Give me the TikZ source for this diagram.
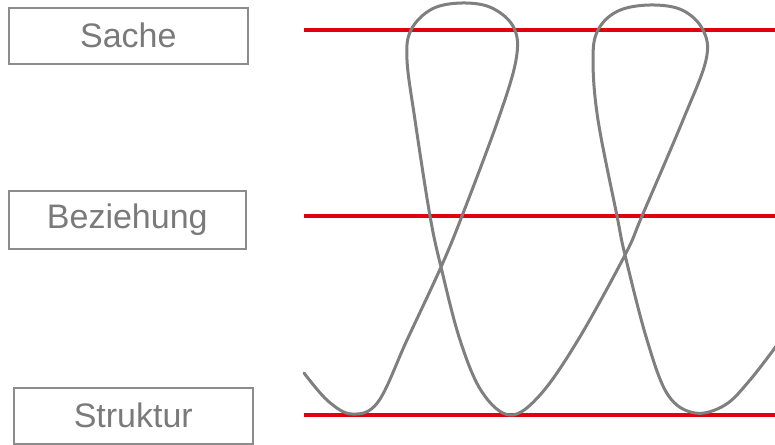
\documentclass[tikz,border=0pt]{standalone}
\usepackage{fontspec}
\setmainfont{Liberation Sans}
\definecolor{txtgray}{HTML}{7A7A7A}
\definecolor{boxgray}{HTML}{8C8C8C}
\definecolor{curvegray}{HTML}{7F7F7F}
\definecolor{redline}{HTML}{E00010}
\begin{document}
\begin{tikzpicture}[x=1pt,y=-1pt,
  label box/.style={draw=boxgray,line width=1.6pt,text=txtgray,font=\fontsize{34}{38}\selectfont,inner sep=0pt,anchor=north west},
  level line/.style={draw=redline,line width=4pt},
  thread/.style={draw=curvegray,line width=3pt,line cap=round}]
\useasboundingbox (0,0) rectangle (775,444);
\node[label box,minimum width=239pt,minimum height=56pt] (sache) at (8,7) {Sache};
\node[label box,minimum width=237pt,minimum height=58pt] (bez) at (8,190) {Beziehung};
\node[label box,minimum width=239pt,minimum height=56pt] (struk) at (13,387) {Struktur};
\coordinate (s1) at (304,30); \coordinate (s2) at (775,30);
\coordinate (b1) at (304,216); \coordinate (b2) at (775,216);
\coordinate (t1) at (304,415); \coordinate (t2) at (775,415);
\draw[level line] (s1) -- (s2);
\draw[level line] (b1) -- (b2);
\draw[level line] (t1) -- (t2);
\begin{scope}
\clip (0,0) rectangle (775,444);
\draw[thread] plot[smooth,tension=0.6] coordinates {
(304,373) (328,401) (352,414) (378,402) (407,340) (441,267) (462,216) (498,120) (516,60) (514,28) (492,8) (462,3) (432,9) (411,30) (407,60) (415,120) (430,216) (441,267) (460,340) (482,392) (510,415) (540,395) (578,340) (625,255) (642,216) (683,120) (706,60) (703,30) (682,10) (650,5) (618,11) (598,30) (593,60) (598,120) (617,216) (625,255) (647,340) (668,395) (695,413) (725,405) (750,380) (777,345)};
\end{scope}
\end{tikzpicture}
\end{document}
